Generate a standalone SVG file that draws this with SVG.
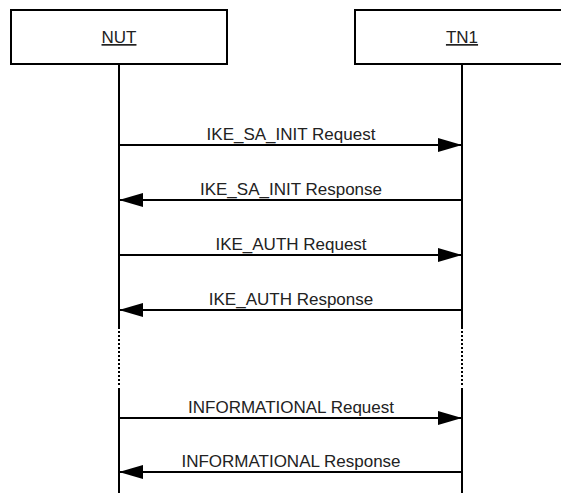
<svg xmlns="http://www.w3.org/2000/svg" width="561" height="493" viewBox="0 0 561 493">
<style>
.box{fill:#fff;stroke:#000;stroke-width:2}
.life{stroke:#000;stroke-width:2;fill:none}
.dot{stroke:#000;stroke-width:2;stroke-dasharray:2 2;fill:none}
.msg{stroke:#000;stroke-width:2;fill:none}
.lbl{font-family:"Liberation Sans",Arial,Helvetica,sans-serif;font-size:17px;fill:#222;text-anchor:middle}
.title{text-decoration:underline}
</style>
<defs>
<marker id="ah" viewBox="0 0 24 14" refX="24" refY="7" markerWidth="24" markerHeight="14" markerUnits="userSpaceOnUse" orient="auto">
<path d="M0,0 L24,7 L0,14 Z" fill="#000"/>
</marker>
</defs>
<g id="NUT">
<rect class="box" x="11" y="10" width="216" height="54"/>
<text class="lbl title" x="119" y="43">NUT</text>
<path class="life" d="M119,64 V329"/>
<path class="dot" d="M119,331 V386"/>
<path class="life" d="M119,388 V493"/>
</g>
<g id="TN1">
<rect class="box" x="355" y="10" width="240" height="54"/>
<text class="lbl title" x="462" y="43">TN1</text>
<path class="life" d="M462,64 V329"/>
<path class="dot" d="M462,331 V386"/>
<path class="life" d="M462,388 V493"/>
</g>
<g id="connectors">
<path class="msg" d="M119,145 H462" marker-end="url(#ah)"/>
<text class="lbl" x="291" y="140">IKE_SA_INIT Request</text>
<path class="msg" d="M462,200 H119" marker-end="url(#ah)"/>
<text class="lbl" x="291" y="195">IKE_SA_INIT Response</text>
<path class="msg" d="M119,255 H462" marker-end="url(#ah)"/>
<text class="lbl" x="291" y="250">IKE_AUTH Request</text>
<path class="msg" d="M462,310 H119" marker-end="url(#ah)"/>
<text class="lbl" x="291" y="305">IKE_AUTH Response</text>
<path class="msg" d="M119,418 H462" marker-end="url(#ah)"/>
<text class="lbl" x="291" y="413">INFORMATIONAL Request</text>
<path class="msg" d="M462,472 H119" marker-end="url(#ah)"/>
<text class="lbl" x="291" y="467">INFORMATIONAL Response</text>
</g>
</svg>
